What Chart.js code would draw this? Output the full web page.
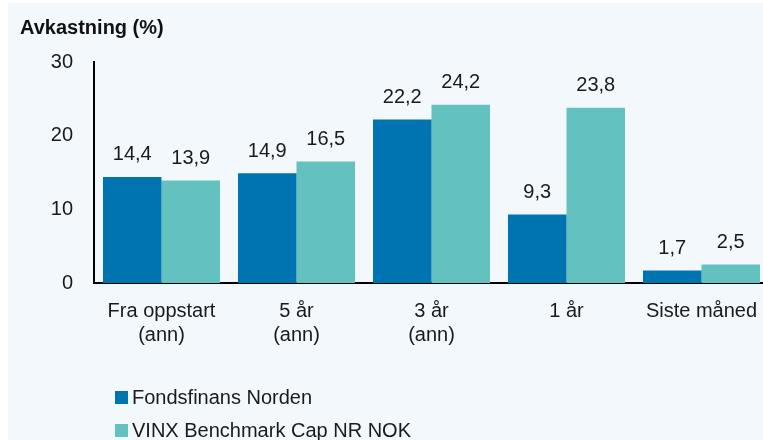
<!DOCTYPE html>
<html>
<head>
<meta charset="utf-8">
<script src="https://cdn.jsdelivr.net/npm/chart.js@4"></script>
<style>
  html, body { margin: 0; padding: 0; background: #ffffff; overflow: hidden; }
  #bg { position: absolute; left: 8px; top: 3px; width: 770px; height: 440px; background: #f2f8fc; }
  #wrap { position: absolute; left: 0; top: 0; width: 770px; height: 440px; }
</style>
</head>
<body>
<div id="bg"></div>
<div id="wrap"><canvas id="chart"></canvas></div>
<script>
const categories = [['Fra oppstart', '(ann)'], ['5 år', '(ann)'], ['3 år', '(ann)'], '1 år', 'Siste måned'];
const fundValues = [14.4, 14.9, 22.2, 9.3, 1.7];
const benchValues = [13.9, 16.5, 24.2, 23.8, 2.5];
const seriesNames = ['Fondsfinans Norden', 'VINX Benchmark Cap NR NOK'];
const seriesColors = ['#0074b0', '#63c2bf'];
const yTicks = [0, 10, 20, 30];

const FONT = '"Liberation Sans", Arial, sans-serif';

const extras = {
  id: 'extras',
  afterDatasetsDraw(chart) {
    const ctx = chart.ctx;
    ctx.save();
    // value labels
    ctx.font = '20px ' + FONT;
    ctx.fillStyle = '#1a1a1a';
    ctx.textAlign = 'center';
    ctx.textBaseline = 'middle';
    chart.data.datasets.forEach((ds, i) => {
      chart.getDatasetMeta(i).data.forEach((bar, j) => {
        ctx.fillText(ds.data[j].toFixed(1).replace('.', ','), bar.x, bar.y - 22);
      });
    });
    // title
    ctx.font = 'bold 20px ' + FONT;
    ctx.textAlign = 'left';
    ctx.fillStyle = '#111';
    ctx.fillText('Avkastning (%)', 20, 28);
    // legend
    ctx.font = '20px ' + FONT;
    chart.data.datasets.forEach((ds, i) => {
      const y = 397 + i * 33;
      ctx.fillStyle = ds.backgroundColor;
      ctx.fillRect(115, y - 6, 13, 13);
      ctx.fillStyle = '#1a1a1a';
      ctx.fillText(ds.label, 132, y + 1);
    });
    ctx.restore();
  }
};

new Chart(document.getElementById('chart'), {
  type: 'bar',
  data: {
    labels: categories,
    datasets: [
      { label: seriesNames[0], data: fundValues, backgroundColor: seriesColors[0] },
      { label: seriesNames[1], data: benchValues, backgroundColor: seriesColors[1] }
    ]
  },
  options: {
    responsive: true,
    maintainAspectRatio: false,
    animation: false,
    events: [],
    layout: { padding: { top: 62, right: 1, left: 0, bottom: 0 } },
    plugins: { legend: { display: false }, tooltip: { enabled: false }, title: { display: false } },
    datasets: { bar: { categoryPercentage: 0.867, barPercentage: 1.0, borderWidth: 0 } },
    scales: {
      x: {
        grid: { display: false },
        border: { display: true, color: '#000', width: 2 },
        ticks: { color: '#1a1a1a', font: { family: FONT, size: 20, lineHeight: 1.2 }, padding: 8, maxRotation: 0 },
        afterFit(scale) { scale.height = 157; }
      },
      y: {
        min: 0,
        max: 30,
        afterBuildTicks(scale) { scale.ticks = yTicks.map(v => ({ value: v })); },
        grid: { display: false },
        border: { display: true, color: '#000', width: 2 },
        ticks: { color: '#1a1a1a', font: { family: FONT, size: 20 }, padding: 13 },
        afterFit(scale) { scale.width = 94; }
      }
    }
  },
  plugins: [extras]
});
</script>
</body>
</html>
